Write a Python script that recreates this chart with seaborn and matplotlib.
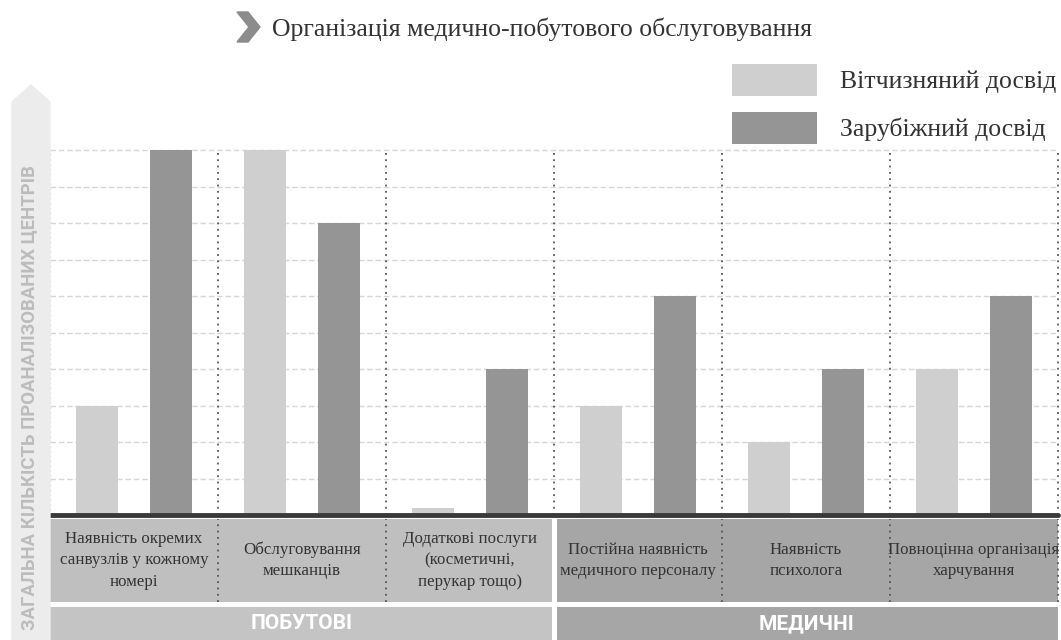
import pandas as pd
import seaborn as sns
import matplotlib.pyplot as plt
from matplotlib.patches import Polygon

# data
categories = [
    "Наявність окремих\nсанвузлів у кожному\nномері",
    "Обслуговування\nмешканців",
    "Додаткові послуги\n(косметичні,\nперукар тощо)",
    "Постійна наявність\nмедичного персоналу",
    "Наявність\nпсихолога",
    "Повноцінна організація\nхарчування",
]
domestic = [3, 10, 0.2, 3, 2, 4]
foreign = [10, 8, 4, 6, 4, 6]
series_names = ["Вітчизняний досвід", "Зарубіжний досвід"]
group_names = ["ПОБУТОВІ", "МЕДИЧНІ"]
group_sizes = [3, 3]
title = "Організація медично-побутового обслуговування"
y_label = "ЗАГАЛЬНА КІЛЬКІСТЬ ПРОАНАЛІЗОВАНИХ ЦЕНТРІВ"

bar_colors = ["#cfcfcf", "#959595"]
box_colors = ["#bfbfbf", "#a6a6a6"]
band_colors = ["#c4c4c4", "#a6a6a6"]

sns.set_style("white")
plt.rcParams["font.family"] = ["Liberation Serif", "DejaVu Serif"]

W, H = 1061, 640


def fx(x):
    return x / W


def fy(y):
    return 1 - y / H


df = pd.DataFrame({
    "cat": categories * 2,
    "series": [series_names[0]] * len(categories) + [series_names[1]] * len(categories),
    "value": domestic + foreign,
})

fig = plt.figure(figsize=(W / 100, H / 100), dpi=100)

# left arrow behind the axis title
arrow = Polygon([(fx(12), fy(640)), (fx(12), fy(102)), (fx(31), fy(85)),
                 (fx(50), fy(102)), (fx(50), fy(640))],
                closed=True, transform=fig.transFigure, color="#ececec", zorder=0)
fig.patches.append(arrow)
fig.text(fx(29), fy(398), y_label, rotation=90, ha="center", va="center",
         family="Roboto", fontweight="bold", fontsize=13.3, color="#bcbcbc")

# main bar axes
ax = fig.add_axes([fx(50), fy(515), fx(1008), 365 / H])
sns.barplot(data=df, x="cat", y="value", hue="series", order=categories,
            hue_order=series_names, palette=bar_colors, width=0.88, gap=0.43,
            errorbar=None, linewidth=0, ax=ax, zorder=2)
handles, labels = ax.get_legend_handles_labels()
ax.get_legend().remove()
n = len(categories)
ax.set_xlim(-0.5, n - 0.5)
ax.set_ylim(0, 10)
ax.hlines(range(1, 11), -0.5, n - 0.5, colors="#d6d6d6", linestyles=(0, (4, 2)),
          linewidth=1, zorder=0, clip_on=False)
ax.vlines([i + 0.5 for i in range(n)], 0, 10, colors="#555555",
          linestyles=(0, (1, 2.5)), linewidth=1.3, zorder=1, clip_on=False)
ax.vlines([-0.5], 0, 10, colors="#d0d0d0", linestyles=(0, (1, 2.5)), linewidth=1, zorder=1)
ax.axhline(0, color="#3a3a3a", linewidth=3.5, zorder=3, clip_on=False)
ax.set_xlabel("")
ax.set_ylabel("")
ax.tick_params(left=False, bottom=False, labelleft=False, labelbottom=False)
sns.despine(ax=ax, left=True, bottom=True)

# category label boxes and group bands
ax_lab = fig.add_axes([fx(50), fy(602), fx(1008), 83 / H])
ax_band = fig.add_axes([fx(50), 0, fx(1008), 33 / H])
start = 0
for g, size in enumerate(group_sizes):
    left = start - 0.5 + (0.018 if start > 0 else 0)
    right = start + size - 0.5 - (0.012 if start + size < n else 0)
    ax_lab.axvspan(left, right, color=box_colors[g], lw=0)
    ax_band.axvspan(left, right, color=band_colors[g], lw=0)
    ax_band.text(start + (size - 1) / 2, 0.5, group_names[g], ha="center", va="center",
                 family="Roboto", fontweight="bold", fontsize=15, color="white")
    start += size
for i, cat in enumerate(categories):
    ax_lab.text(i, 0.5, cat, ha="center", va="center", fontsize=12.2,
                color="#333333", linespacing=1.45)
seps = [i + 0.5 for i in range(n) if i + 0.5 != group_sizes[0] - 0.5]
ax_lab.vlines(seps, 0, 1, colors="#555555", linestyles=(0, (1, 2.5)), linewidth=1.3,
              clip_on=False)
for a in (ax_lab, ax_band):
    a.set_xlim(-0.5, n - 0.5)
    a.set_ylim(0, 1)
    a.axis("off")

# title with chevron
chev = Polygon([(fx(237), fy(12)), (fx(248), fy(12)), (fx(260), fy(27)),
                (fx(248), fy(42)), (fx(237), fy(42)), (fx(249), fy(27))],
               closed=True, transform=fig.transFigure, color="#8c8c8c")
fig.patches.append(chev)
fig.text(fx(272), fy(29), title, ha="left", va="center", fontsize=18.5, color="#333333")

# legend
fig.legend(handles, labels, loc="upper left", bbox_to_anchor=(fx(732), fy(64)),
           frameon=False, borderpad=0, borderaxespad=0, fontsize=18.5,
           handlelength=3.31, handleheight=1.54, handletextpad=0.9, labelspacing=0.62,
           labelcolor="#333333")

fig.savefig("out.png", dpi=100)
